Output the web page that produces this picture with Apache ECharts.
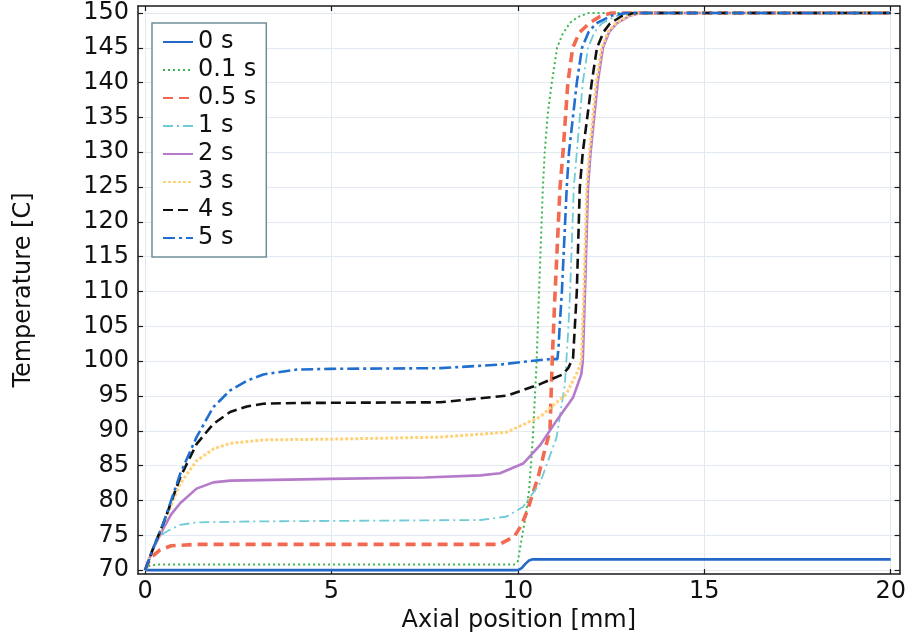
<!DOCTYPE html>
<html>
<head>
<meta charset="utf-8">
<style>
  html, body { margin: 0; padding: 0; background: #ffffff; }
  #chart { width: 909px; height: 638px; }
</style>
<script src="https://cdn.jsdelivr.net/npm/echarts@6/dist/echarts.min.js"></script>
</head>
<body>
<div id="chart"></div>
<script>
// Temperature profiles along the axial position at successive times.
const seriesNames = ['0 s', '0.1 s', '0.5 s', '1 s', '2 s', '3 s', '4 s', '5 s'];

const xTicks = [0, 5, 10, 15, 20];
const yTicks = [70, 75, 80, 85, 90, 95, 100, 105, 110, 115, 120, 125, 130, 135, 140, 145, 150];

// axial position [mm] / temperature [C]
const pos_0s  = [0, 10.0, 10.1, 10.2, 10.3, 10.4, 20];
const temp_0s = [70, 70, 70.3, 70.9, 71.4, 71.55, 71.55];

const pos_01s  = [0, 0.1, 0.3, 9.9, 10.0, 10.1, 10.2, 10.3, 10.4, 10.5, 10.56, 10.67, 10.72, 10.8, 10.91, 11.05, 11.2, 11.4, 11.6, 11.9, 20];
const temp_01s = [70, 70.6, 70.8, 70.8, 71.3, 74.5, 77.5, 81.5, 89, 99.6, 109, 125, 130, 135.5, 140, 145, 147, 148.6, 149.4, 150, 150];

const pos_05s  = [0, 0.1, 0.2, 0.4, 0.7, 1.4, 9.5, 9.9, 10.1, 10.25, 10.4, 10.55, 10.7, 10.86, 10.92, 10.99, 11.13, 11.21, 11.34, 11.47, 11.65, 11.93, 12.2, 12.5, 20];
const temp_05s = [70, 71.2, 72, 72.9, 73.5, 73.7, 73.7, 74.8, 76.5, 78.5, 81, 83.5, 86.8, 90, 100, 109, 125, 130, 140, 145, 147.2, 148.6, 149.5, 150, 150];

const pos_1s  = [0, 0.1, 0.2, 0.31, 0.5, 0.67, 0.94, 1.38, 3, 9.0, 9.7, 10.14, 10.59, 11.04, 11.26, 11.35, 11.4, 11.5, 11.58, 11.74, 11.88, 12.05, 12.25, 12.6, 13.0, 20];
const temp_1s = [70, 71.6, 73.1, 74.4, 75.3, 75.8, 76.5, 76.85, 77.0, 77.2, 77.7, 79.1, 82.45, 89.1, 96.7, 104.4, 110, 125, 130, 140, 145, 147.2, 148.5, 149.5, 150, 150];

const pos_2s  = [0, 0.2, 0.49, 0.7, 0.94, 1.38, 1.83, 2.28, 4.96, 7.5, 9.0, 9.52, 10.14, 10.59, 11.04, 11.48, 11.7, 11.74, 11.8, 11.88, 11.95, 12.14, 12.28, 12.45, 12.65, 13.0, 13.3, 20];
const temp_2s = [70, 72.9, 76, 78, 79.6, 81.7, 82.6, 82.85, 83.1, 83.3, 83.6, 83.9, 85.3, 87.9, 91.5, 94.8, 98.1, 100, 110, 125, 130, 140, 145, 147.3, 148.5, 149.6, 150, 150];

const pos_3s  = [0, 0.2, 0.49, 0.94, 1.38, 1.83, 2.28, 3.17, 4.96, 7.91, 9.7, 10.59, 11.3, 11.6, 11.7, 11.77, 11.85, 11.92, 12.1, 12.25, 12.42, 12.62, 12.95, 13.25, 20];
const temp_3s = [70, 72.9, 76.6, 82.4, 85.7, 87.4, 88.2, 88.7, 88.8, 89.1, 89.8, 92.0, 95.3, 98.5, 100, 110, 125, 130, 140, 145, 147.3, 148.5, 149.6, 150, 150];

const pos_4s  = [0, 0.2, 0.49, 0.94, 1.38, 1.83, 2.28, 2.73, 3.17, 4.07, 7.91, 9.7, 10.59, 11.2, 11.35, 11.48, 11.58, 11.66, 11.74, 11.98, 12.12, 12.3, 12.47, 12.8, 13.1, 20];
const temp_4s = [70, 72.9, 76.7, 83.3, 88.1, 91, 92.7, 93.5, 93.9, 94.0, 94.1, 95.05, 96.7, 98.1, 99.0, 100.5, 110, 125, 130, 140, 145, 147.3, 148.5, 149.6, 150, 150];

const pos_5s  = [0, 0.2, 0.49, 0.94, 1.38, 1.83, 2.28, 2.73, 3.17, 4.07, 4.96, 7.91, 9.5, 10.3, 10.86, 11.06, 11.09, 11.12, 11.18, 11.31, 11.37, 11.58, 11.72, 11.9, 12.1, 12.5, 12.9, 20];
const temp_5s = [70, 72.9, 76.7, 83.8, 89.1, 93.4, 95.8, 97.2, 98.1, 98.8, 98.9, 99.0, 99.5, 100.0, 100.3, 100.3, 102, 105, 110, 125, 130, 140, 145, 147.3, 148.5, 149.6, 150, 150];

const positions = [pos_0s, pos_01s, pos_05s, pos_1s, pos_2s, pos_3s, pos_4s, pos_5s];
const temps = [temp_0s, temp_01s, temp_05s, temp_1s, temp_2s, temp_3s, temp_4s, temp_5s];

const lineStyles = [
  { color: '#2468c8', width: 2.6, type: 'solid' },
  { color: '#3db54c', width: 2,   type: [2, 3] },
  { color: '#f26a4f', width: 3.6, type: [10, 6] },
  { color: '#6fcbd6', width: 1.8, type: [10, 4, 2, 4] },
  { color: '#b57ac9', width: 2.6, type: 'solid' },
  { color: '#ffd27a', width: 3,   type: [3, 2] },
  { color: '#111111', width: 2.6, type: [10, 5] },
  { color: '#1f6fd0', width: 2.6, type: [12, 4, 3, 4] }
];

const FONT = 'DejaVu Sans';
const AXIS_COLOR = '#1a1a1a';
const GRID_COLOR = '#e3e9f0';

const xMin = -0.19, xMax = 20.24;
const yMin = 69.43, yMax = 151.0;

function frameAxis(extra) {
  return Object.assign({
    type: 'value',
    axisLine: { show: true, onZero: false, lineStyle: { color: AXIS_COLOR, width: 1.5 } },
    axisTick: { show: true, inside: true, length: 5, lineStyle: { color: AXIS_COLOR, width: 1.2 } },
    splitLine: { show: false }
  }, extra);
}

const series = seriesNames.map((name, i) => ({
  name: name,
  type: 'line',
  xAxisIndex: 0,
  yAxisIndex: 0,
  symbol: 'none',
  smooth: false,
  lineStyle: lineStyles[i],
  itemStyle: { color: lineStyles[i].color },
  data: positions[i].map((x, k) => [x, temps[i][k]])
}));

const chart = echarts.init(document.getElementById('chart'), null, { renderer: 'canvas' });
chart.setOption({
  animation: false,
  backgroundColor: '#ffffff',
  textStyle: { fontFamily: FONT },
  grid: { left: 138, right: 9, top: 6, bottom: 60, containLabel: false },
  legend: {
    orient: 'vertical',
    left: 152,
    top: 23,
    data: seriesNames,
    itemWidth: 30,
    itemHeight: 14,
    itemGap: 4,
    padding: [7, 10, 7, 10],
    backgroundColor: '#ffffff',
    borderColor: '#6f8f98',
    borderWidth: 1.5,
    borderRadius: 0,
    itemStyle: { opacity: 0 },
    textStyle: { fontFamily: FONT, fontSize: 24, color: '#111111' }
  },
  xAxis: [
    frameAxis({
      position: 'bottom',
      min: xMin, max: xMax,
      name: 'Axial position [mm]',
      nameLocation: 'middle',
      nameGap: 30,
      nameTextStyle: { fontFamily: FONT, fontSize: 24, color: '#111111' },
      axisTick: { show: true, inside: true, length: 5, customValues: xTicks, lineStyle: { color: AXIS_COLOR, width: 1.2 } },
      axisLabel: { show: true, customValues: xTicks, margin: 6, fontFamily: FONT, fontSize: 24, color: '#111111' },
      splitLine: { show: true, lineStyle: { color: GRID_COLOR, width: 1 } }
    }),
    frameAxis({
      position: 'top',
      min: xMin, max: xMax,
      axisTick: { show: true, inside: true, length: 5, customValues: xTicks, lineStyle: { color: AXIS_COLOR, width: 1.2 } },
      axisLabel: { show: false, customValues: xTicks }
    })
  ],
  yAxis: [
    frameAxis({
      position: 'left',
      min: yMin, max: yMax,
      name: 'Temperature [C]',
      nameLocation: 'middle',
      nameGap: 102,
      nameTextStyle: { fontFamily: FONT, fontSize: 24, color: '#111111' },
      axisTick: { show: true, inside: true, length: 5, customValues: yTicks, lineStyle: { color: AXIS_COLOR, width: 1.2 } },
      axisLabel: { show: true, customValues: yTicks, margin: 9, fontFamily: FONT, fontSize: 24, color: '#111111' },
      splitLine: { show: true, lineStyle: { color: GRID_COLOR, width: 1 } }
    }),
    frameAxis({
      position: 'right',
      min: yMin, max: yMax,
      axisTick: { show: true, inside: true, length: 5, customValues: yTicks, lineStyle: { color: AXIS_COLOR, width: 1.2 } },
      axisLabel: { show: false, customValues: yTicks }
    })
  ],
  series: series
});
</script>
</body>
</html>
